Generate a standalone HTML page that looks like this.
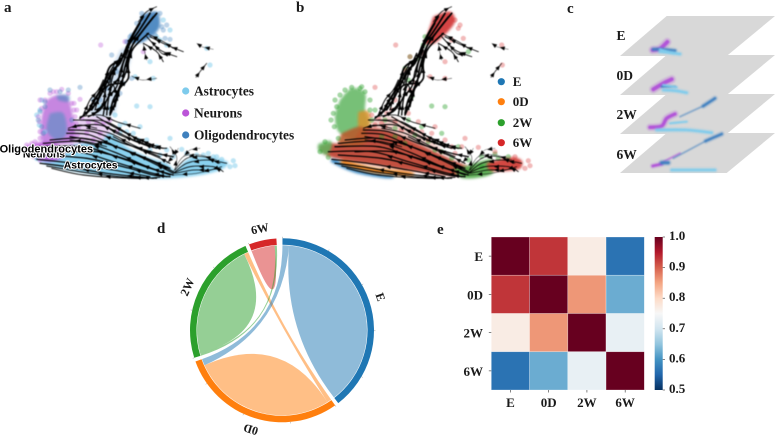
<!DOCTYPE html>
<html lang="en">
<head>
<meta charset="utf-8">
<title>Cell state figure</title>
<style>
html,body{margin:0;padding:0;background:#fff;width:777px;height:436px;overflow:hidden}
svg{display:block}
text{font-family:"Liberation Serif",serif;font-weight:700;fill:#1a1a1a}
.soft{filter:blur(.45px)}
.haze{filter:blur(1.3px)}
.clabel{font-family:"Liberation Sans",sans-serif;font-weight:700;fill:#000;stroke:#fff;stroke-width:2px;paint-order:stroke;stroke-linejoin:round}
</style>
</head>
<body>
<svg id="fig" width="777" height="436" viewBox="0 0 777 436" xmlns="http://www.w3.org/2000/svg">
<rect width="777" height="436" fill="#fff"/>
<text x="4" y="12" font-size="15">a</text>
<text x="296" y="12" font-size="15">b</text>
<text x="567" y="13" font-size="15">c</text>
<text x="157" y="233" font-size="15">d</text>
<text x="437" y="234" font-size="15">e</text>
<g id="panelA"></g>
<g id="panelB"></g>
<g id="panelC"></g>
<g id="panelD"></g>
<g id="panelE"></g>
<g>
<circle cx="185.7" cy="91" r="3.6" fill="#7ecbec"/>
<text x="194" y="95.5" font-size="13.4">Astrocytes</text>
<circle cx="185.7" cy="113" r="3.6" fill="#bb55d8"/>
<text x="194" y="117.5" font-size="13.4">Neurons</text>
<circle cx="185.7" cy="135" r="3.6" fill="#3f80bd"/>
<text x="194" y="139.5" font-size="13.4">Oligodendrocytes</text>
</g>
<g>
<circle cx="501.3" cy="81.7" r="3.6" fill="#1f77b4"/>
<text x="512.7" y="86" font-size="13">E</text>
<circle cx="501.3" cy="101.7" r="3.6" fill="#ff7f0e"/>
<text x="512.7" y="106" font-size="13">0D</text>
<circle cx="501.3" cy="122.7" r="3.6" fill="#2ca02c"/>
<text x="512.7" y="127" font-size="13">2W</text>
<circle cx="501.3" cy="142.7" r="3.6" fill="#d62728"/>
<text x="512.7" y="147" font-size="13">6W</text>
</g>
</svg>
<script>
/* ---------- shared embedding data (embedding units) ---------- */
const streamLines = [
[[430,50],[400,100],[380,140],[360,190],[335,215],[310,270],[280,320],[240,355]],
[[470,40],[430,90],[395,140],[375,200],[365,250],[340,300],[330,340]],
[[450,40],[415,95],[390,130],[370,170],[330,200],[315,240],[290,290],[260,340]],
[[445,100],[400,145],[385,190],[385,235],[360,265],[350,300],[330,345]],
[[335,215],[325,255],[295,280],[270,320]],
[[360,250],[320,260],[310,310],[280,345]],
[[345,190],[325,225],[300,280],[285,330]],
[[375,170],[360,215],[350,260],[320,300],[310,345]],
[[420,70],[395,115],[375,160],[355,190],[340,215],[318,250],[300,290],[275,330]],
[[460,50],[425,95],[400,130],[385,175],[378,215],[355,270],[345,320]],
[[365,160],[350,195],[335,240],[325,290],[300,330],[265,350]],
[[385,150],[370,190],[360,230],[335,260],[325,300],[320,345]],
[[310,240],[295,270],[270,300],[250,345]],
[[340,255],[350,285],[340,320]],
[[440,110],[480,150],[530,170]],
[[450,110],[500,135],[550,155]],
[[430,130],[470,155],[490,185]],
[[440,100],[490,125],[520,145]],
[[430,130],[435,160],[440,180]],
[[470,20],[440,35],[415,65]],
[[455,125],[485,160],[510,165]],
[[590,130],[605,140],[640,148]],
[[620,190],[600,215],[588,232]],
[[395,228],[425,240],[470,235]],
[[240,350],[300,345],[350,365],[420,385]],
[[220,380],[300,375],[380,410],[450,440],[500,445]],
[[205,390],[280,395],[370,430],[470,460],[520,470]],
[[250,360],[320,365],[390,405],[460,435],[490,445]],
[[290,350],[350,385],[420,420],[455,435]],
[[260,385],[330,400],[410,440],[480,470]],
[[220,360],[290,365],[350,400],[420,430],[470,445]],
[[200,400],[270,405],[360,445],[440,475],[510,505]],
[[150,420],[250,415],[350,440],[440,480],[520,520]],
[[130,430],[240,425],[340,455],[430,495],[510,525]],
[[120,440],[250,440],[350,470],[450,505],[520,525]],
[[100,455],[230,455],[340,485],[440,515],[500,530]],
[[130,465],[260,475],[370,500],[460,525],[510,530]],
[[110,478],[220,490],[340,510],[450,530]],
[[120,490],[200,500],[320,520],[460,535]],
[[140,498],[240,515],[360,530],[470,535]],
[[155,505],[250,525],[400,535],[480,532]],
[[210,410],[300,425],[390,455],[470,490],[520,515]],
[[180,455],[290,455],[400,485],[480,515]],
[[205,385],[240,375],[290,385]],
[[210,420],[260,425],[320,440]],
[[520,520],[560,490],[620,480],[680,490]],
[[520,520],[570,500],[640,500],[670,515]],
[[520,515],[550,470],[600,465],[650,480]],
[[525,510],[560,475],[610,470],[660,490]],
[[525,520],[580,510],[630,510],[665,500]],
[[520,525],[590,520],[650,505]],
[[510,440],[530,470],[525,510]],
[[500,490],[520,470],[535,445]],
[[550,470],[570,450],[600,445]],
[[330,370],[375,395],[430,430],[480,440]],
[[340,410],[400,440],[470,470],[510,490]]
];
const streamSpeed = [1.6,1.7,1.8,1.6,1.2,1.6,1.1,1.3,1.5,1.4,1.3,1.3,1,1,.9,.9,.9,.8,.6,.7,.7,.5,.7,.6,.8,1,1.2,.8,1.1,.9,.9,1.1,1.1,1.1,1.3,1.2,1.3,1.1,1.2,1,.9,1.2,1.3,.8,.8,.8,.8,.6,.7,.7,.6,.6,.5,.5,.9,1];

/* cell-type density regions and scatter points (panel a) */
const astroRegion = [[100,470],[130,490],[200,510],[300,525],[400,532],[500,535],[600,525],[660,510],[685,490],[660,478],[600,470],[560,480],[525,510],[500,490],[440,470],[380,440],[330,400],[300,430],[250,430],[180,445],[130,460]];
const neuronRegion = [[140,300],[170,285],[200,290],[215,330],[225,400],[210,430],[150,430],[125,420],[125,350]];
const neuronTail = [[75,440],[130,425],[185,440],[190,470],[150,485],[110,475]];
const neuronHaze = [[215,370],[260,352],[320,355],[330,400],[300,430],[250,430],[210,440]];
const oligoCore = [[150,340],[190,340],[200,400],[170,420],[140,390]];
const oligoTop = [[170,285],[205,285],[205,305],[175,300]];
const oligoApex = [[425,45],[470,35],[480,70],[470,95],[430,125],[395,130],[380,125],[410,90]];
const oligoColumn = [[360,150],[395,140],[385,210],[355,260],[345,340],[290,350],[270,330],[310,250],[335,200]];
const astroPts = [[700,482],[705,497],[640,470],[610,465],[560,460],[545,448],[510,415],[450,320],[410,318],[620,145],[630,195],[405,230],[460,235],[380,395],[420,380],[470,440],[500,450],[520,470],[575,470],[650,470],[665,478],[690,500],[110,475],[90,455],[345,345],[360,375],[400,400],[440,420],[300,440],[340,430],[300,320],[330,325],[500,135],[470,110],[480,120],[450,185],[490,60],[510,90],[590,465],[625,460],[480,465],[450,450],[415,420],[360,400],[375,370],[120,330],[110,345],[118,375],[125,300],[135,395]];
const neuronPts = [[302,135],[430,155],[375,125],[240,298],[225,350],[245,355],[265,365],[290,370],[310,370],[330,360],[350,395],[300,400],[260,400],[215,310],[222,330],[95,430],[85,445],[100,470],[120,480],[190,450],[185,268],[160,275],[120,300],[115,350],[230,330],[235,385],[245,420],[280,420],[150,280],[135,300],[125,325],[118,365],[120,395],[120,415],[170,275],[205,280],[222,310],[228,370],[232,405],[215,440],[75,445],[80,435],[105,425]];
const oligoPts = [[485,80],[495,115],[510,118],[120,335],[115,360],[135,305],[150,270],[205,270],[240,262],[180,275],[335,165],[345,205],[330,240],[385,140],[395,235],[370,250],[300,300],[350,290],[390,110],[500,75],[135,320],[130,400],[125,380],[215,360],[380,125],[395,105],[410,70],[425,40],[480,40],[490,90],[465,105],[350,215],[320,265],[280,300],[360,280]];

/* timepoint density regions and scatter points (panel b) */
const greenBlob = [[135,300],[170,265],[210,280],[210,330],[220,370],[200,420],[135,400],[120,350]];
const orangeWedge = [[190,335],[222,335],[225,380],[205,400],[190,380]];
const pinkHaze = [[225,360],[290,350],[350,385],[420,430],[440,460],[340,420],[250,395]];
const redBand = [[70,440],[105,430],[165,430],[205,385],[285,395],[365,430],[485,485],[545,510],[490,528],[365,515],[235,495],[135,478],[85,462]];
const redBlob = [[140,400],[200,380],[215,425],[160,440],[130,430]];
const greenLeft = [[70,432],[105,422],[110,440],[95,465],[70,450]];
const greenRight = [[475,505],[515,498],[545,488],[590,480],[590,522],[505,535]];
const redRight = [[575,490],[645,472],[680,482],[670,508],[590,512]];
const redApex = [[415,50],[465,35],[478,70],[425,125],[390,130],[400,95]];
const orangeBelly = [[145,480],[240,503],[345,516],[345,528],[230,518],[140,492]];
const blueBelly = [[115,476],[190,503],[290,523],[280,535],[180,518],[110,487]];
const pts2W = [[120,300],[135,285],[150,270],[170,262],[195,265],[210,275],[225,300],[115,340],[108,360],[130,415],[90,425],[75,455],[100,472],[350,290],[340,240],[330,205],[370,175],[520,155],[410,318],[450,320],[560,470],[600,462],[640,470],[490,440],[440,400],[380,380],[340,360],[420,450],[330,430],[270,360],[300,410],[240,330],[390,110],[125,320],[118,380],[200,260],[225,330],[230,360],[360,405],[400,425],[440,455],[470,475],[300,385],[260,410],[520,480],[560,500],[610,475],[385,135],[345,170]];
const pts6W = [[302,135],[490,85],[505,115],[470,120],[450,185],[620,135],[622,195],[405,230],[450,235],[240,262],[380,395],[420,380],[350,395],[300,365],[270,380],[510,415],[700,482],[705,497],[690,505],[660,470],[600,455],[550,442],[500,440],[470,440],[345,170],[330,210],[360,250],[300,300],[275,340],[250,355],[230,345],[480,60],[495,75],[340,340],[320,390],[400,420],[370,365],[410,400],[450,420],[480,460],[290,330],[345,270],[385,160],[240,375],[260,370]];

/* panel c: per-timepoint cloud strokes with local density */
const planeLabels = ["E","0D","2W","6W"];
const cloudType = ["neuron","oligo","astro","astro","neuron","oligo","astro","astro","neuron","oligo","oligo","astro","astro","neuron","neuron","oligo","oligo","oligo","astro"];
const cloudLayer = [0,0,0,0,1,1,1,1,2,2,2,2,2,3,3,3,3,3,3];
const cloudDensity = [8,5,5,3,8,3,5,3,7,5,1.5,5,3,5,2,6,5,1.5,5];
const cloudTrace = [
[[278,150],[300,146],[322,126]],
[[280,148],[300,148],[345,152]],
[[300,155],[330,158],[360,162]],
[[300,148],[340,160]],
[[280,268],[310,250],[335,238]],
[[305,260],[345,260]],
[[310,270],[345,272],[380,278]],
[[310,255],[350,262]],
[[270,382],[305,378],[320,355],[345,342]],
[[430,318],[465,295]],
[[360,350],[430,318]],
[[290,390],[380,390],[455,398]],
[[330,370],[380,365]],
[[278,498],[305,492]],
[[300,490],[360,460]],
[[305,488],[325,488]],
[[437,423],[485,402]],
[[340,475],[437,423]],
[[335,510],[400,510],[465,510]]
];

/* panel d: chord data */
const chordCats = ["E","0D","2W","6W"];
const chordFrom = ["E","E","0D","0D","2W","2W","6W"];
const chordTo = ["0D","E","2W","0D","6W","2W","6W"];
const chordValue = [4.5,137.5,3,98,1.5,79.5,16];
const chordOrderE = [0,1];
const chordOrder0D = [2,3,0];
const chordOrder2W = [4,5,2];
const chordOrder6W = [6,4];

/* panel e: heatmap data */
const heatRows = ["E","0D","2W","6W"];
const heatCols = ["E","0D","2W","6W"];
const heatRowE = [1.0,0.93,0.77,0.565];
const heatRow0D = [0.93,1.0,0.86,0.625];
const heatRow2W = [0.77,0.86,1.0,0.73];
const heatRow6W = [0.565,0.625,0.73,1.0];
const colorTicks = [1.0,0.9,0.8,0.7,0.6,0.5];

const NS = "http://www.w3.org/2000/svg";
function make(tag, parent, attrs) {
  const el = document.createElementNS(NS, tag);
  for (const k in attrs) el.setAttribute(k, attrs[k]);
  parent.appendChild(el);
  return el;
}
function smoothPath(pts, sx, sy) {
  const p = pts.map(q => [sx(q[0]), sy(q[1])]);
  let d = "M" + p[0][0].toFixed(1) + " " + p[0][1].toFixed(1);
  for (let i = 0; i < p.length - 1; i++) {
    const a = p[Math.max(i - 1, 0)], b = p[i], c = p[i + 1], e = p[Math.min(i + 2, p.length - 1)];
    d += "C" + (b[0] + (c[0] - a[0]) / 6).toFixed(1) + " " + (b[1] + (c[1] - a[1]) / 6).toFixed(1) + " " +
         (c[0] - (e[0] - b[0]) / 6).toFixed(1) + " " + (c[1] - (e[1] - b[1]) / 6).toFixed(1) + " " +
         c[0].toFixed(1) + " " + c[1].toFixed(1);
  }
  return d;
}
function addRegion(group, pts, sx, sy, fill, op, name) {
  const el = make("path", group, {d: smoothPath(pts.concat([pts[0]]), sx, sy) + "Z", fill: fill, "fill-opacity": op});
  
  
  return el;
}
function addPoints(group, pts, sx, sy, fill, op, name) {
  pts.forEach(q => {
    const c = make("circle", group, {cx: sx(q[0]).toFixed(1), cy: sy(q[1]).toFixed(1), r: 2.6, fill: fill, "fill-opacity": op});
    
    
  });
}
function addStreams(group, sx, sy) {
  streamLines.forEach((line, i) => {
    const w = streamSpeed[i];
    const path = make("path", group, {d: smoothPath(line, sx, sy), fill: "none", stroke: "#000", "stroke-width": w, "stroke-linecap": "round", "stroke-opacity": w < .7 ? .7 : 1});
    
    
    for (let k = 0; k < line.length - 1; k++) {
      if (line.length > 3 && k === 0) continue;
      const a = line[k + 1], b = line[k];
      const mx = sx((a[0] + b[0]) / 2), my = sy((a[1] + b[1]) / 2);
      const ang = Math.atan2(sy(b[1]) - sy(a[1]), sx(b[0]) - sx(a[0])) * 180 / Math.PI;
      const tri = make("path", group, {d: "M2.8 0L-2.2 -2.1L-2.2 2.1Z", fill: "#000", transform: "translate(" + mx.toFixed(1) + " " + my.toFixed(1) + ") rotate(" + ang.toFixed(0) + ")"});
      
      
    }
  });
}

/* ---------- panel a ---------- */
const gA = document.getElementById("panelA");
const softA = make("g", gA, {class: "soft"});


const ax = u => u / 3, ay = v => v / 3;
const hazeA = make("g", softA, {class: "haze"});


addRegion(hazeA, neuronHaze, ax, ay, "#c98be0", .4, "neuron-haze");
addRegion(hazeA, astroRegion, ax, ay, "#84cfee", .95, "astrocyte-density");
addRegion(hazeA, neuronRegion, ax, ay, "#b868d8", .8, "neuron-density");
addRegion(hazeA, neuronTail, ax, ay, "#b84fd8", .85, "neuron-tail-density");
addRegion(hazeA, oligoCore, ax, ay, "#6a8cc8", .75, "oligodendrocyte-core");
addRegion(hazeA, oligoTop, ax, ay, "#5d8cc4", .7, "oligodendrocyte-top");
addRegion(hazeA, oligoColumn, ax, ay, "#a9c8e6", .5, "oligodendrocyte-column");
addRegion(hazeA, oligoApex, ax, ay, "#3f80bd", .9, "oligodendrocyte-apex");
addPoints(softA, astroPts, ax, ay, "#7ecbec", .5, "astrocyte-cell");
addPoints(softA, neuronPts, ax, ay, "#bb55d8", .35, "neuron-cell");
addPoints(softA, oligoPts, ax, ay, "#3f80bd", .35, "oligodendrocyte-cell");
addStreams(softA, ax, ay);
const clusterNames = ["Neurons","Oligodendrocytes","Astrocytes"];
const clusterU = [132,139,272];
const clusterV = [472,457,505];
clusterNames.forEach((n, i) => {
  const t = make("text", gA, {class: "clabel", x: ax(clusterU[i]), y: ay(clusterV[i]), "text-anchor": "middle", "font-size": i === 1 ? 11 : 10.4});
  
  
  t.textContent = n;
});

/* ---------- panel b ---------- */
const gB = document.getElementById("panelB");
const softB = make("g", gB, {class: "soft"});


const bx = u => 295 + u / 3, by = v => v / 3;
const hazeB = make("g", softB, {class: "haze"});


addRegion(hazeB, greenBlob, bx, by, "#5fb55f", .85, "density-2w-blob");
addRegion(hazeB, orangeWedge, bx, by, "#d9932f", .85, "density-0d-wedge");
addRegion(hazeB, pinkHaze, bx, by, "#e8a9a0", .55, "density-6w-haze");
addRegion(hazeB, blueBelly, bx, by, "#3a87c0", 1, "density-e-belly");
addRegion(hazeB, orangeBelly, bx, by, "#f08a25", 1, "density-0d-belly");
addRegion(hazeB, redBand, bx, by, "#c14a3a", .97, "density-6w-band");
addRegion(hazeB, redBlob, bx, by, "#b85c2e", .9, "density-6w-blob");
addRegion(hazeB, greenLeft, bx, by, "#5fb55f", .85, "density-2w-left");
addRegion(hazeB, greenRight, bx, by, "#55ab4d", .95, "density-2w-right");
addRegion(hazeB, redRight, bx, by, "#d2423c", .97, "density-6w-right");
addRegion(hazeB, redApex, bx, by, "#d23a3a", .95, "density-6w-apex");
addPoints(softB, pts2W, bx, by, "#2ca02c", .42, "cell-2w");
addPoints(softB, pts6W, bx, by, "#d62728", .32, "cell-6w");
addStreams(softB, bx, by);

/* ---------- panel c ---------- */
const gC = document.getElementById("panelC");
const cx3 = u => 560 + u / 3, cy3 = v => v / 3;
planeLabels.forEach((lab, i) => {
  const top = 48 + i * 117, bot = 168 + i * 117;
  const pts = [[180, bot], [320, top], [645, top], [500, bot]].map(q => cx3(q[0]).toFixed(1) + "," + cy3(q[1]).toFixed(1)).join(" ");
  const plane = make("polygon", gC, {points: pts, fill: "#d8d8d8"});
  
  
});
const softC = make("g", gC, {style: "filter:blur(.8px)"});


const cloudColor = {neuron: "#b04fd8", oligo: "#3f7fc0", astro: "#7ecbec"};
cloudTrace.forEach((tr, i) => {
  const w = cloudDensity[i];
  const halo = make("path", softC, {d: smoothPath(tr, cx3, cy3), fill: "none", stroke: cloudColor[cloudType[i]], "stroke-width": w * .9 + 1, "stroke-linecap": "round", "stroke-opacity": .25});
  
  
  const p = make("path", softC, {d: smoothPath(tr, cx3, cy3), fill: "none", stroke: cloudColor[cloudType[i]], "stroke-width": w * .45 + .3, "stroke-linecap": "round", "stroke-opacity": w < 2.5 ? .55 : .95});
  
  
});
const planeLabelY = [40, 80, 119, 159];
planeLabels.forEach((lab, i) => {
  const t = make("text", gC, {x: 616.5, y: planeLabelY[i], "font-size": 13.5});
  
  
  t.textContent = lab;
});

/* ---------- panel d ---------- */
const gD = document.getElementById("panelD");
const CX = 282, CY = 330.3, R1 = 92, R0 = 85.5, RIB = 85, GAP = 2.4, START = 0.3;
const catColor = {E: "#1f77b4", "0D": "#ff7f0e", "2W": "#2ca02c", "6W": "#d62728"};
const pol = (a, r) => [CX + r * Math.sin(a * Math.PI / 180), CY - r * Math.cos(a * Math.PI / 180)];
const fmt = p => p[0].toFixed(2) + " " + p[1].toFixed(2);
const orders = {E: chordOrderE, "0D": chordOrder0D, "2W": chordOrder2W, "6W": chordOrder6W};
const spans = chordValue.map(() => []);
const catSpan = {};
let ang = START;
chordCats.forEach(cat => {
  const s = ang;
  orders[cat].forEach(ci => {
    spans[ci].push([ang, ang + chordValue[ci]]);
    ang += chordValue[ci];
  });
  catSpan[cat] = [s, ang];
  ang += GAP;
});
function arc(a0, a1, r, sweep) {
  const large = Math.abs(a1 - a0) > 180 ? 1 : 0;
  return "A" + r + " " + r + " 0 " + large + " " + sweep + " " + fmt(pol(a1, r));
}
const drawOrder = [1, 3, 5, 6, 2, 4, 0];
drawOrder.forEach(ci => {
  const s = spans[ci];
  let d;
  if (s.length === 1) {
    d = "M" + fmt(pol(s[0][0], RIB)) + arc(s[0][0], s[0][1], RIB, 1) + "Q" + CX + " " + CY + " " + fmt(pol(s[0][0], RIB)) + "Z";
  } else {
    d = "M" + fmt(pol(s[0][0], RIB)) + arc(s[0][0], s[0][1], RIB, 1) + "Q" + CX + " " + CY + " " + fmt(pol(s[1][0], RIB)) +
        arc(s[1][0], s[1][1], RIB, 1) + "Q" + CX + " " + CY + " " + fmt(pol(s[0][0], RIB)) + "Z";
  }
  const rib = make("path", gD, {d: d, fill: catColor[chordFrom[ci]], "fill-opacity": .5});
  
  
});
chordCats.forEach(cat => {
  const [a0, a1] = catSpan[cat];
  const d = "M" + fmt(pol(a0, R0)) + arc(a0, a1, R0, 1) + "L" + fmt(pol(a1, R1)) + arc(a1, a0, R1, 0) + "Z";
  const seg = make("path", gD, {d: d, fill: catColor[cat]});
  
  
  const tickCount = Math.floor((a1 - a0) / 30);
  for (let k = 0; k <= tickCount; k++) {
    const a = a0 + k * 30;
    const p0 = pol(a, R1), p1 = pol(a, R1 + 1.5);
    const tk = make("line", gD, {x1: p0[0], y1: p0[1], x2: p1[0], y2: p1[1], stroke: "#999", "stroke-width": .5});
    
    
  }
  const mid = (a0 + a1) / 2;
  const lp = pol(mid, 104);
  const t = make("text", gD, {"font-size": 12, "text-anchor": "middle", "dominant-baseline": "central", transform: "translate(" + lp[0].toFixed(1) + " " + lp[1].toFixed(1) + ") rotate(" + mid.toFixed(1) + ")"});
  
  
  t.textContent = cat;
});

/* ---------- panel e ---------- */
const gE = document.getElementById("panelE");
const RdBu = ["#053061","#2166ac","#4393c3","#92c5de","#d1e5f0","#f7f7f7","#fddbc7","#f4a582","#d6604d","#b2182b","#67001f"];
const hex = h => [1, 3, 5].map(i => parseInt(h.substr(i, 2), 16));
function colorOf(v) {
  const t = Math.max(0, Math.min(1, (v - 0.5) / 0.5)) * 10;
  const i = Math.min(9, Math.floor(t)), f = t - i;
  const a = hex(RdBu[i]), b = hex(RdBu[i + 1]);
  return "rgb(" + a.map((c, k) => Math.round(c + (b[k] - c) * f)).join(",") + ")";
}
const HX0 = 491.3, HY0 = 237, HSIZE = 153;
const hx = i => HX0 + i * HSIZE / heatCols.length;
const hy = j => HY0 + j * HSIZE / heatRows.length;
const heat = [heatRowE, heatRow0D, heatRow2W, heatRow6W];
heat.forEach((row, j) => row.forEach((v, i) => {
  const r = make("rect", gE, {x: hx(i), y: hy(j), width: HSIZE / 4, height: HSIZE / 4, fill: colorOf(v), stroke: "rgba(255,255,255,.45)", "stroke-width": .6});
  
  
}));
heatRows.forEach((lab, j) => {
  const y = hy(j) + HSIZE / 8;
  const tk = make("line", gE, {x1: HX0 - 2.5, x2: HX0, y1: y, y2: y, stroke: "#333", "stroke-width": .6});
  
  
  const t = make("text", gE, {x: 483, y: y + 0.5, "font-size": 13, "text-anchor": "end", "dominant-baseline": "central"});
  
  
  t.textContent = lab;
});
heatCols.forEach((lab, i) => {
  const x = hx(i) + HSIZE / 8;
  const tk = make("line", gE, {x1: x, x2: x, y1: HY0 + HSIZE, y2: HY0 + HSIZE + 2.5, stroke: "#333", "stroke-width": .6});
  
  
  const t = make("text", gE, {x: x, y: 407, "font-size": 13, "text-anchor": "middle"});
  
  
  t.textContent = lab;
});
const defs = make("defs", gE, {});
const grad = make("linearGradient", defs, {id: "cbar", x1: 0, y1: 1, x2: 0, y2: 0});
RdBu.forEach((c, i) => make("stop", grad, {offset: i / 10, "stop-color": c}));
const cbar = make("rect", gE, {x: 654.7, y: HY0, width: 8, height: HSIZE, fill: "url(#cbar)"});


const cby = v => HY0 + HSIZE * (1 - (v - 0.5) / 0.5);
colorTicks.forEach(v => {
  const y = cby(v);
  const tk = make("line", gE, {x1: 662.7, x2: 665, y1: y, y2: y, stroke: "#333", "stroke-width": .6});
  
  
  const t = make("text", gE, {x: 669, y: y + 3, "font-size": 13});
  
  
  t.textContent = v.toFixed(1);
});
</script>
</body>
</html>
